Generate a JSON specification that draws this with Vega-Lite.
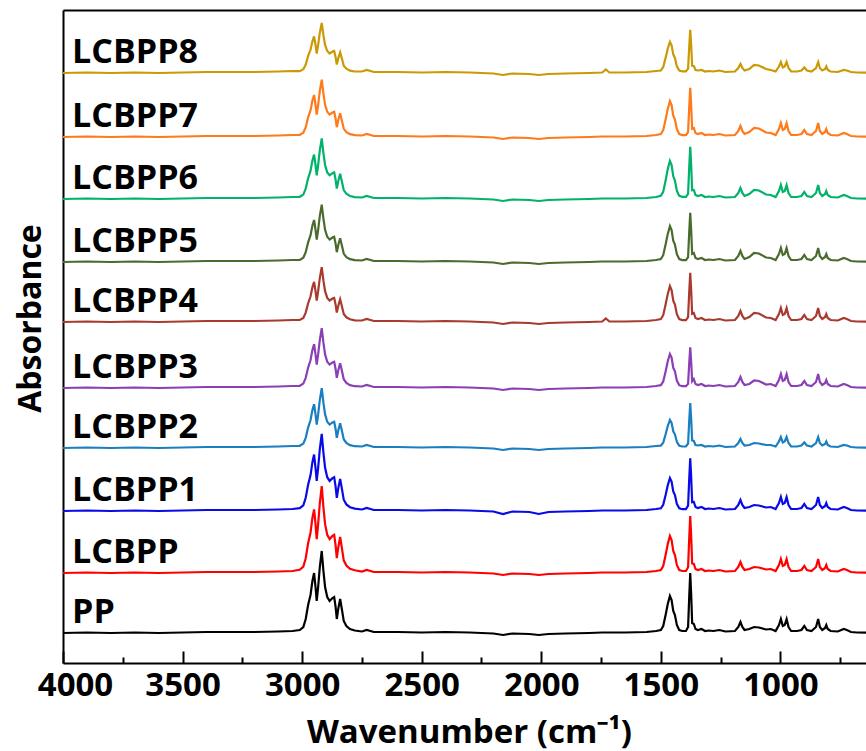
{
"$schema": "https://vega.github.io/schema/vega-lite/v6.json",
"width": 803,
"height": 653,
"autosize": {"type": "none"},
"padding": {"left": 63, "top": 10, "right": 0, "bottom": 88},
"background": "white",
"config": {"view": {"stroke": null}, "font": "Open Sans"},
"datasets": {
"spectra": [
{"w":4000,"PP":30,"LCBPP":90,"LCBPP1":152,"LCBPP2":215,"LCBPP3":275,"LCBPP4":341,"LCBPP5":401,"LCBPP6":464,"LCBPP7":526,"LCBPP8":590},
{"w":3900,"PP":30.5,"LCBPP":90.5,"LCBPP1":152.5,"LCBPP2":215.5,"LCBPP3":275.5,"LCBPP4":341.5,"LCBPP5":401.5,"LCBPP6":464.5,"LCBPP7":526.5,"LCBPP8":590.5},
{"w":3800,"PP":30,"LCBPP":90,"LCBPP1":152,"LCBPP2":215,"LCBPP3":275,"LCBPP4":341,"LCBPP5":401,"LCBPP6":464,"LCBPP7":526,"LCBPP8":590},
{"w":3700,"PP":30.5,"LCBPP":90.5,"LCBPP1":152.5,"LCBPP2":215.5,"LCBPP3":275.5,"LCBPP4":341.5,"LCBPP5":401.5,"LCBPP6":464.5,"LCBPP7":526.5,"LCBPP8":590.5},
{"w":3600,"PP":30,"LCBPP":90,"LCBPP1":152,"LCBPP2":215,"LCBPP3":275,"LCBPP4":341,"LCBPP5":401,"LCBPP6":464,"LCBPP7":526,"LCBPP8":590},
{"w":3500,"PP":30.5,"LCBPP":90.5,"LCBPP1":152.5,"LCBPP2":215.5,"LCBPP3":275.5,"LCBPP4":341.5,"LCBPP5":401.5,"LCBPP6":464.5,"LCBPP7":526.5,"LCBPP8":590.5},
{"w":3400,"PP":31,"LCBPP":91,"LCBPP1":153,"LCBPP2":216,"LCBPP3":276,"LCBPP4":342,"LCBPP5":402,"LCBPP6":465,"LCBPP7":527,"LCBPP8":591},
{"w":3300,"PP":31,"LCBPP":91,"LCBPP1":153,"LCBPP2":216,"LCBPP3":276,"LCBPP4":342,"LCBPP5":402,"LCBPP6":465,"LCBPP7":527,"LCBPP8":591},
{"w":3200,"PP":31,"LCBPP":91,"LCBPP1":153,"LCBPP2":216,"LCBPP3":276,"LCBPP4":342,"LCBPP5":402,"LCBPP6":465,"LCBPP7":527,"LCBPP8":591},
{"w":3100,"PP":31.5,"LCBPP":91.5,"LCBPP1":153.5,"LCBPP2":216.5,"LCBPP3":276.5,"LCBPP4":342.5,"LCBPP5":402.5,"LCBPP6":465.5,"LCBPP7":527.5,"LCBPP8":591.5},
{"w":3040,"PP":32,"LCBPP":92,"LCBPP1":154,"LCBPP2":217,"LCBPP3":277,"LCBPP4":343,"LCBPP5":403,"LCBPP6":466,"LCBPP7":528,"LCBPP8":592},
{"w":3010,"PP":33,"LCBPP":93.2,"LCBPP1":154.8,"LCBPP2":217.2,"LCBPP3":277.2,"LCBPP4":343,"LCBPP5":403.1,"LCBPP6":466.2,"LCBPP7":528.1,"LCBPP8":591.8},
{"w":2995,"PP":36,"LCBPP":96.4,"LCBPP1":157.6,"LCBPP2":219.4,"LCBPP3":279.4,"LCBPP4":345,"LCBPP5":405.2,"LCBPP6":468.4,"LCBPP7":530.2,"LCBPP8":593.7},
{"w":2985,"PP":44,"LCBPP":104.8,"LCBPP1":165.2,"LCBPP2":225.2,"LCBPP3":285.2,"LCBPP4":350.4,"LCBPP5":410.8,"LCBPP6":474.4,"LCBPP7":535.8,"LCBPP8":598.5},
{"w":2975,"PP":58,"LCBPP":119.7,"LCBPP1":178.3,"LCBPP2":235.4,"LCBPP3":295.4,"LCBPP4":359.8,"LCBPP5":420.6,"LCBPP6":484.7,"LCBPP7":545.6,"LCBPP8":607.1},
{"w":2965,"PP":68,"LCBPP":130.3,"LCBPP1":187.7,"LCBPP2":242.7,"LCBPP3":302.7,"LCBPP4":366.5,"LCBPP5":427.6,"LCBPP6":492.1,"LCBPP7":552.6,"LCBPP8":613.2},
{"w":2957,"PP":82,"LCBPP":145.1,"LCBPP1":200.9,"LCBPP2":253,"LCBPP3":313,"LCBPP4":375.8,"LCBPP5":437.4,"LCBPP6":502.5,"LCBPP7":562.4,"LCBPP8":621.7},
{"w":2950,"PP":90,"LCBPP":153.6,"LCBPP1":208.4,"LCBPP2":258.8,"LCBPP3":318.8,"LCBPP4":381.2,"LCBPP5":443,"LCBPP6":508.4,"LCBPP7":568,"LCBPP8":626.6},
{"w":2944,"PP":76,"LCBPP":138.8,"LCBPP1":195.2,"LCBPP2":248.6,"LCBPP3":308.6,"LCBPP4":371.8,"LCBPP5":433.2,"LCBPP6":498,"LCBPP7":558.2,"LCBPP8":618.1},
{"w":2939,"PP":62,"LCBPP":123.9,"LCBPP1":182.1,"LCBPP2":238.4,"LCBPP3":298.4,"LCBPP4":362.4,"LCBPP5":423.4,"LCBPP6":487.7,"LCBPP7":548.4,"LCBPP8":609.5},
{"w":2933,"PP":76,"LCBPP":138.8,"LCBPP1":195.2,"LCBPP2":248.6,"LCBPP3":308.6,"LCBPP4":371.8,"LCBPP5":433.2,"LCBPP6":498,"LCBPP7":558.2,"LCBPP8":618.1},
{"w":2926,"PP":96,"LCBPP":160,"LCBPP1":214,"LCBPP2":263.2,"LCBPP3":323.2,"LCBPP4":385.2,"LCBPP5":447.2,"LCBPP6":512.8,"LCBPP7":572.2,"LCBPP8":630.3},
{"w":2918,"PP":112,"LCBPP":176.9,"LCBPP1":229.1,"LCBPP2":274.9,"LCBPP3":334.9,"LCBPP4":395.9,"LCBPP5":458.4,"LCBPP6":524.7,"LCBPP7":583.4,"LCBPP8":640},
{"w":2911,"PP":92,"LCBPP":155.7,"LCBPP1":210.3,"LCBPP2":260.3,"LCBPP3":320.3,"LCBPP4":382.5,"LCBPP5":444.4,"LCBPP6":509.9,"LCBPP7":569.4,"LCBPP8":627.8},
{"w":2904,"PP":76,"LCBPP":138.8,"LCBPP1":195.2,"LCBPP2":248.6,"LCBPP3":308.6,"LCBPP4":371.8,"LCBPP5":433.2,"LCBPP6":498,"LCBPP7":558.2,"LCBPP8":618.1},
{"w":2895,"PP":66,"LCBPP":128.2,"LCBPP1":185.8,"LCBPP2":241.3,"LCBPP3":301.3,"LCBPP4":365.1,"LCBPP5":426.2,"LCBPP6":490.6,"LCBPP7":551.2,"LCBPP8":612},
{"w":2885,"PP":62,"LCBPP":123.9,"LCBPP1":182.1,"LCBPP2":238.4,"LCBPP3":298.4,"LCBPP4":362.4,"LCBPP5":423.4,"LCBPP6":487.7,"LCBPP7":548.4,"LCBPP8":609.5},
{"w":2873,"PP":65,"LCBPP":127.1,"LCBPP1":184.9,"LCBPP2":240.6,"LCBPP3":300.6,"LCBPP4":364.5,"LCBPP5":425.5,"LCBPP6":489.9,"LCBPP7":550.5,"LCBPP8":611.4},
{"w":2866,"PP":66,"LCBPP":128.2,"LCBPP1":185.8,"LCBPP2":241.3,"LCBPP3":301.3,"LCBPP4":365.1,"LCBPP5":426.2,"LCBPP6":490.6,"LCBPP7":551.2,"LCBPP8":612},
{"w":2860,"PP":56,"LCBPP":117.6,"LCBPP1":176.4,"LCBPP2":234,"LCBPP3":294,"LCBPP4":358.4,"LCBPP5":419.2,"LCBPP6":483.2,"LCBPP7":544.2,"LCBPP8":605.9},
{"w":2855,"PP":44,"LCBPP":104.8,"LCBPP1":165.2,"LCBPP2":225.2,"LCBPP3":285.2,"LCBPP4":350.4,"LCBPP5":410.8,"LCBPP6":474.4,"LCBPP7":535.8,"LCBPP8":598.5},
{"w":2849,"PP":54,"LCBPP":115.4,"LCBPP1":174.6,"LCBPP2":232.5,"LCBPP3":292.5,"LCBPP4":357.1,"LCBPP5":417.8,"LCBPP6":481.8,"LCBPP7":542.8,"LCBPP8":604.6},
{"w":2841,"PP":64,"LCBPP":126,"LCBPP1":184,"LCBPP2":239.8,"LCBPP3":299.8,"LCBPP4":363.8,"LCBPP5":424.8,"LCBPP6":489.2,"LCBPP7":549.8,"LCBPP8":610.7},
{"w":2834,"PP":54,"LCBPP":115.4,"LCBPP1":174.6,"LCBPP2":232.5,"LCBPP3":292.5,"LCBPP4":357.1,"LCBPP5":417.8,"LCBPP6":481.8,"LCBPP7":542.8,"LCBPP8":604.6},
{"w":2826,"PP":42,"LCBPP":102.7,"LCBPP1":163.3,"LCBPP2":223.8,"LCBPP3":283.8,"LCBPP4":349,"LCBPP5":409.4,"LCBPP6":472.9,"LCBPP7":534.4,"LCBPP8":597.3},
{"w":2815,"PP":37,"LCBPP":97.4,"LCBPP1":158.6,"LCBPP2":220.1,"LCBPP3":280.1,"LCBPP4":345.7,"LCBPP5":405.9,"LCBPP6":469.2,"LCBPP7":530.9,"LCBPP8":594.3},
{"w":2800,"PP":34,"LCBPP":94.2,"LCBPP1":155.8,"LCBPP2":217.9,"LCBPP3":277.9,"LCBPP4":343.7,"LCBPP5":403.8,"LCBPP6":467,"LCBPP7":528.8,"LCBPP8":592.4},
{"w":2780,"PP":32.5,"LCBPP":92.7,"LCBPP1":154.4,"LCBPP2":216.8,"LCBPP3":276.8,"LCBPP4":342.7,"LCBPP5":402.8,"LCBPP6":465.9,"LCBPP7":527.8,"LCBPP8":591.5},
{"w":2750,"PP":31.5,"LCBPP":91.5,"LCBPP1":153.5,"LCBPP2":216.5,"LCBPP3":276.5,"LCBPP4":342.5,"LCBPP5":402.5,"LCBPP6":465.5,"LCBPP7":527.5,"LCBPP8":591.5},
{"w":2730,"PP":33,"LCBPP":93,"LCBPP1":155,"LCBPP2":218,"LCBPP3":278,"LCBPP4":344,"LCBPP5":404,"LCBPP6":467,"LCBPP7":529,"LCBPP8":593},
{"w":2700,"PP":31,"LCBPP":91,"LCBPP1":153,"LCBPP2":216,"LCBPP3":276,"LCBPP4":342,"LCBPP5":402,"LCBPP6":465,"LCBPP7":527,"LCBPP8":591},
{"w":2600,"PP":31,"LCBPP":91,"LCBPP1":153,"LCBPP2":216,"LCBPP3":276,"LCBPP4":342,"LCBPP5":402,"LCBPP6":465,"LCBPP7":527,"LCBPP8":591},
{"w":2500,"PP":30.5,"LCBPP":90.5,"LCBPP1":152.5,"LCBPP2":215.5,"LCBPP3":275.5,"LCBPP4":341.5,"LCBPP5":401.5,"LCBPP6":464.5,"LCBPP7":526.5,"LCBPP8":590.5},
{"w":2400,"PP":31,"LCBPP":91,"LCBPP1":153,"LCBPP2":216,"LCBPP3":276,"LCBPP4":342,"LCBPP5":402,"LCBPP6":465,"LCBPP7":527,"LCBPP8":591},
{"w":2300,"PP":30.5,"LCBPP":90.5,"LCBPP1":152.5,"LCBPP2":215.5,"LCBPP3":275.5,"LCBPP4":341.5,"LCBPP5":401.5,"LCBPP6":464.5,"LCBPP7":526.5,"LCBPP8":590.5},
{"w":2200,"PP":29.5,"LCBPP":89.5,"LCBPP1":151.5,"LCBPP2":214.5,"LCBPP3":274.5,"LCBPP4":340.5,"LCBPP5":400.5,"LCBPP6":463.5,"LCBPP7":525.5,"LCBPP8":589.5},
{"w":2160,"PP":28,"LCBPP":88,"LCBPP1":149,"LCBPP2":213,"LCBPP3":273,"LCBPP4":339,"LCBPP5":399,"LCBPP6":462,"LCBPP7":524,"LCBPP8":588},
{"w":2120,"PP":29.5,"LCBPP":89.5,"LCBPP1":151.5,"LCBPP2":214.5,"LCBPP3":274.5,"LCBPP4":340.5,"LCBPP5":400.5,"LCBPP6":463.5,"LCBPP7":525.5,"LCBPP8":589.5},
{"w":2050,"PP":29,"LCBPP":89,"LCBPP1":151,"LCBPP2":214,"LCBPP3":274,"LCBPP4":340,"LCBPP5":400,"LCBPP6":463,"LCBPP7":525,"LCBPP8":589},
{"w":2010,"PP":28,"LCBPP":88,"LCBPP1":149,"LCBPP2":213,"LCBPP3":273,"LCBPP4":339,"LCBPP5":399,"LCBPP6":462,"LCBPP7":524,"LCBPP8":588},
{"w":1970,"PP":29,"LCBPP":89,"LCBPP1":151,"LCBPP2":214,"LCBPP3":274,"LCBPP4":340,"LCBPP5":400,"LCBPP6":463,"LCBPP7":525,"LCBPP8":589},
{"w":1900,"PP":29.5,"LCBPP":89.5,"LCBPP1":151.5,"LCBPP2":214.5,"LCBPP3":274.5,"LCBPP4":340.5,"LCBPP5":400.5,"LCBPP6":463.5,"LCBPP7":525.5,"LCBPP8":589.5},
{"w":1800,"PP":30,"LCBPP":90,"LCBPP1":152,"LCBPP2":215,"LCBPP3":275,"LCBPP4":341,"LCBPP5":401,"LCBPP6":464,"LCBPP7":526,"LCBPP8":590},
{"w":1745,"PP":30.5,"LCBPP":90.5,"LCBPP1":152.5,"LCBPP2":215.5,"LCBPP3":275.5,"LCBPP4":341.5,"LCBPP5":401.5,"LCBPP6":464.5,"LCBPP7":526.5,"LCBPP8":590.5},
{"w":1730,"PP":30.5,"LCBPP":90.5,"LCBPP1":152.5,"LCBPP2":215.5,"LCBPP3":275.5,"LCBPP4":344.5,"LCBPP5":401.5,"LCBPP6":464.5,"LCBPP7":526.5,"LCBPP8":593.5},
{"w":1715,"PP":30.5,"LCBPP":90.5,"LCBPP1":152.5,"LCBPP2":215.5,"LCBPP3":275.5,"LCBPP4":341.5,"LCBPP5":401.5,"LCBPP6":464.5,"LCBPP7":526.5,"LCBPP8":590.5},
{"w":1650,"PP":30.5,"LCBPP":90.5,"LCBPP1":152.5,"LCBPP2":215.5,"LCBPP3":275.5,"LCBPP4":341.5,"LCBPP5":401.5,"LCBPP6":464.5,"LCBPP7":526.5,"LCBPP8":590.5},
{"w":1560,"PP":31,"LCBPP":91,"LCBPP1":153,"LCBPP2":216,"LCBPP3":276,"LCBPP4":342,"LCBPP5":402,"LCBPP6":465,"LCBPP7":527,"LCBPP8":591},
{"w":1520,"PP":32,"LCBPP":92,"LCBPP1":154,"LCBPP2":217,"LCBPP3":277,"LCBPP4":343,"LCBPP5":403,"LCBPP6":466,"LCBPP7":528,"LCBPP8":592},
{"w":1500,"PP":33,"LCBPP":93,"LCBPP1":154.7,"LCBPP2":217.3,"LCBPP3":277.8,"LCBPP4":343.9,"LCBPP5":403.9,"LCBPP6":467.1,"LCBPP7":528.9,"LCBPP8":592.5},
{"w":1490,"PP":37,"LCBPP":97,"LCBPP1":158.2,"LCBPP2":220.3,"LCBPP3":281.4,"LCBPP4":347.8,"LCBPP5":407.8,"LCBPP6":471.2,"LCBPP7":532.8,"LCBPP8":595.9},
{"w":1480,"PP":48,"LCBPP":108,"LCBPP1":168,"LCBPP2":228.7,"LCBPP3":291.6,"LCBPP4":358.5,"LCBPP5":418.5,"LCBPP6":482.5,"LCBPP7":543.5,"LCBPP8":605.1},
{"w":1471,"PP":59,"LCBPP":119,"LCBPP1":177.8,"LCBPP2":237,"LCBPP3":301.7,"LCBPP4":369.1,"LCBPP5":429.1,"LCBPP6":493.9,"LCBPP7":554.1,"LCBPP8":614.4},
{"w":1462,"PP":67,"LCBPP":127,"LCBPP1":184.9,"LCBPP2":243.1,"LCBPP3":309,"LCBPP4":376.9,"LCBPP5":436.9,"LCBPP6":502.1,"LCBPP7":561.9,"LCBPP8":621.1},
{"w":1455,"PP":63,"LCBPP":123,"LCBPP1":181.4,"LCBPP2":240.1,"LCBPP3":305.4,"LCBPP4":373,"LCBPP5":433,"LCBPP6":498,"LCBPP7":558,"LCBPP8":617.7},
{"w":1448,"PP":52,"LCBPP":112,"LCBPP1":171.6,"LCBPP2":231.7,"LCBPP3":295.2,"LCBPP4":362.3,"LCBPP5":422.3,"LCBPP6":486.7,"LCBPP7":547.3,"LCBPP8":608.5},
{"w":1441,"PP":48,"LCBPP":108,"LCBPP1":168,"LCBPP2":228.7,"LCBPP3":291.6,"LCBPP4":358.5,"LCBPP5":418.5,"LCBPP6":482.5,"LCBPP7":543.5,"LCBPP8":605.1},
{"w":1433,"PP":38,"LCBPP":98,"LCBPP1":159.1,"LCBPP2":221.1,"LCBPP3":282.4,"LCBPP4":348.8,"LCBPP5":408.8,"LCBPP6":472.2,"LCBPP7":533.8,"LCBPP8":596.7},
{"w":1423,"PP":33,"LCBPP":93,"LCBPP1":154.7,"LCBPP2":217.3,"LCBPP3":277.8,"LCBPP4":343.9,"LCBPP5":403.9,"LCBPP6":467.1,"LCBPP7":528.9,"LCBPP8":592.5},
{"w":1410,"PP":32,"LCBPP":92,"LCBPP1":153.8,"LCBPP2":216.5,"LCBPP3":276.8,"LCBPP4":342.9,"LCBPP5":402.9,"LCBPP6":466.1,"LCBPP7":527.9,"LCBPP8":591.7},
{"w":1395,"PP":32,"LCBPP":92,"LCBPP1":153.8,"LCBPP2":216.5,"LCBPP3":276.8,"LCBPP4":342.9,"LCBPP5":402.9,"LCBPP6":466.1,"LCBPP7":527.9,"LCBPP8":591.7},
{"w":1386,"PP":36,"LCBPP":95.7,"LCBPP1":157.3,"LCBPP2":219.5,"LCBPP3":279.1,"LCBPP4":345.9,"LCBPP5":405.9,"LCBPP6":469.2,"LCBPP7":530.9,"LCBPP8":594.3},
{"w":1381,"PP":68,"LCBPP":126.1,"LCBPP1":185.4,"LCBPP2":243.5,"LCBPP3":300.8,"LCBPP4":372.2,"LCBPP5":432.2,"LCBPP6":497.1,"LCBPP7":557.2,"LCBPP8":617.4},
{"w":1377,"PP":90,"LCBPP":147,"LCBPP1":204.8,"LCBPP2":260,"LCBPP3":315.8,"LCBPP4":390.2,"LCBPP5":450.2,"LCBPP6":516.2,"LCBPP7":575.2,"LCBPP8":633.2},
{"w":1373,"PP":68,"LCBPP":126.1,"LCBPP1":185.4,"LCBPP2":243.5,"LCBPP3":300.8,"LCBPP4":372.2,"LCBPP5":432.2,"LCBPP6":497.1,"LCBPP7":557.2,"LCBPP8":617.4},
{"w":1369,"PP":40,"LCBPP":99.5,"LCBPP1":160.8,"LCBPP2":222.5,"LCBPP3":281.8,"LCBPP4":349.2,"LCBPP5":409.2,"LCBPP6":472.7,"LCBPP7":534.2,"LCBPP8":597.2},
{"w":1362,"PP":39,"LCBPP":99,"LCBPP1":161,"LCBPP2":222,"LCBPP3":284,"LCBPP4":350,"LCBPP5":410,"LCBPP6":473,"LCBPP7":535,"LCBPP8":597},
{"w":1355,"PP":34,"LCBPP":94,"LCBPP1":156,"LCBPP2":218,"LCBPP3":279,"LCBPP4":345,"LCBPP5":405,"LCBPP6":468,"LCBPP7":530,"LCBPP8":593},
{"w":1345,"PP":33,"LCBPP":93,"LCBPP1":155,"LCBPP2":217.5,"LCBPP3":278,"LCBPP4":344,"LCBPP5":404,"LCBPP6":467,"LCBPP7":529,"LCBPP8":592.5},
{"w":1330,"PP":34,"LCBPP":94,"LCBPP1":156,"LCBPP2":218,"LCBPP3":279,"LCBPP4":345,"LCBPP5":405,"LCBPP6":468,"LCBPP7":530,"LCBPP8":593},
{"w":1315,"PP":32,"LCBPP":92,"LCBPP1":154,"LCBPP2":216.5,"LCBPP3":277,"LCBPP4":343,"LCBPP5":403,"LCBPP6":466,"LCBPP7":528,"LCBPP8":591.5},
{"w":1300,"PP":32.5,"LCBPP":92.5,"LCBPP1":154.5,"LCBPP2":217,"LCBPP3":277.5,"LCBPP4":343.5,"LCBPP5":403.5,"LCBPP6":466.5,"LCBPP7":528.5,"LCBPP8":592},
{"w":1280,"PP":32,"LCBPP":92,"LCBPP1":154,"LCBPP2":216.5,"LCBPP3":277,"LCBPP4":343,"LCBPP5":403,"LCBPP6":466,"LCBPP7":528,"LCBPP8":591.5},
{"w":1255,"PP":33,"LCBPP":93,"LCBPP1":155,"LCBPP2":217.5,"LCBPP3":278,"LCBPP4":344,"LCBPP5":404,"LCBPP6":467,"LCBPP7":529,"LCBPP8":592.5},
{"w":1230,"PP":31.5,"LCBPP":91.5,"LCBPP1":153.5,"LCBPP2":216,"LCBPP3":276.5,"LCBPP4":342.5,"LCBPP5":402.5,"LCBPP6":465.5,"LCBPP7":527.5,"LCBPP8":591},
{"w":1190,"PP":32,"LCBPP":92,"LCBPP1":154,"LCBPP2":216.5,"LCBPP3":277,"LCBPP4":343,"LCBPP5":403,"LCBPP6":466,"LCBPP7":528,"LCBPP8":591.5},
{"w":1176,"PP":36,"LCBPP":96,"LCBPP1":158,"LCBPP2":220,"LCBPP3":281,"LCBPP4":347,"LCBPP5":407,"LCBPP6":470,"LCBPP7":532,"LCBPP8":595},
{"w":1167,"PP":41,"LCBPP":101,"LCBPP1":163,"LCBPP2":224,"LCBPP3":286,"LCBPP4":352,"LCBPP5":412,"LCBPP6":475,"LCBPP7":537,"LCBPP8":599},
{"w":1159,"PP":36,"LCBPP":96,"LCBPP1":158,"LCBPP2":220,"LCBPP3":281,"LCBPP4":347,"LCBPP5":407,"LCBPP6":470,"LCBPP7":532,"LCBPP8":595},
{"w":1150,"PP":33,"LCBPP":93,"LCBPP1":155,"LCBPP2":217.5,"LCBPP3":278,"LCBPP4":344,"LCBPP5":404,"LCBPP6":467,"LCBPP7":529,"LCBPP8":592.5},
{"w":1130,"PP":34,"LCBPP":94,"LCBPP1":156,"LCBPP2":218,"LCBPP3":279,"LCBPP4":346,"LCBPP5":406,"LCBPP6":469,"LCBPP7":531,"LCBPP8":594},
{"w":1110,"PP":36,"LCBPP":96,"LCBPP1":158,"LCBPP2":220,"LCBPP3":282.5,"LCBPP4":350,"LCBPP5":410,"LCBPP6":473,"LCBPP7":535,"LCBPP8":598},
{"w":1090,"PP":35.5,"LCBPP":95.5,"LCBPP1":157.5,"LCBPP2":219.5,"LCBPP3":282,"LCBPP4":349.5,"LCBPP5":409.5,"LCBPP6":472.5,"LCBPP7":534.5,"LCBPP8":597.5},
{"w":1060,"PP":33.5,"LCBPP":93.5,"LCBPP1":155.5,"LCBPP2":218,"LCBPP3":278.5,"LCBPP4":345.5,"LCBPP5":405.5,"LCBPP6":468.5,"LCBPP7":530.5,"LCBPP8":594},
{"w":1040,"PP":34,"LCBPP":94,"LCBPP1":156,"LCBPP2":218,"LCBPP3":279,"LCBPP4":345,"LCBPP5":405,"LCBPP6":468,"LCBPP7":530,"LCBPP8":593},
{"w":1020,"PP":32,"LCBPP":92,"LCBPP1":154,"LCBPP2":216.5,"LCBPP3":277,"LCBPP4":343,"LCBPP5":403,"LCBPP6":466,"LCBPP7":528,"LCBPP8":591.5},
{"w":1006,"PP":38,"LCBPP":98,"LCBPP1":160,"LCBPP2":221.5,"LCBPP3":283,"LCBPP4":349,"LCBPP5":409,"LCBPP6":472,"LCBPP7":534,"LCBPP8":596.5},
{"w":998,"PP":44,"LCBPP":104,"LCBPP1":166,"LCBPP2":226,"LCBPP3":289,"LCBPP4":355,"LCBPP5":415,"LCBPP6":478,"LCBPP7":540,"LCBPP8":601},
{"w":990,"PP":37,"LCBPP":97,"LCBPP1":159,"LCBPP2":220.5,"LCBPP3":282,"LCBPP4":348,"LCBPP5":408,"LCBPP6":471,"LCBPP7":533,"LCBPP8":595.5},
{"w":982,"PP":38,"LCBPP":98,"LCBPP1":160,"LCBPP2":221.5,"LCBPP3":283,"LCBPP4":349,"LCBPP5":409,"LCBPP6":472,"LCBPP7":534,"LCBPP8":596.5},
{"w":974,"PP":44,"LCBPP":104,"LCBPP1":166,"LCBPP2":226,"LCBPP3":289,"LCBPP4":355,"LCBPP5":415,"LCBPP6":478,"LCBPP7":540,"LCBPP8":601},
{"w":966,"PP":36,"LCBPP":96,"LCBPP1":158,"LCBPP2":220,"LCBPP3":281,"LCBPP4":347,"LCBPP5":407,"LCBPP6":470,"LCBPP7":532,"LCBPP8":595},
{"w":955,"PP":32,"LCBPP":92,"LCBPP1":154,"LCBPP2":216.5,"LCBPP3":277,"LCBPP4":343,"LCBPP5":403,"LCBPP6":466,"LCBPP7":528,"LCBPP8":591.5},
{"w":930,"PP":32,"LCBPP":92,"LCBPP1":154,"LCBPP2":216.5,"LCBPP3":277,"LCBPP4":343,"LCBPP5":403,"LCBPP6":466,"LCBPP7":528,"LCBPP8":591.5},
{"w":912,"PP":33,"LCBPP":93,"LCBPP1":155,"LCBPP2":217.5,"LCBPP3":278,"LCBPP4":344,"LCBPP5":404,"LCBPP6":467,"LCBPP7":529,"LCBPP8":592.5},
{"w":900,"PP":37,"LCBPP":97,"LCBPP1":159,"LCBPP2":220.5,"LCBPP3":282,"LCBPP4":348,"LCBPP5":408,"LCBPP6":471,"LCBPP7":533,"LCBPP8":595.5},
{"w":889,"PP":33,"LCBPP":93,"LCBPP1":155,"LCBPP2":217.5,"LCBPP3":278,"LCBPP4":344,"LCBPP5":404,"LCBPP6":467,"LCBPP7":529,"LCBPP8":592.5},
{"w":870,"PP":32,"LCBPP":92,"LCBPP1":154,"LCBPP2":216.5,"LCBPP3":277,"LCBPP4":343,"LCBPP5":403,"LCBPP6":466,"LCBPP7":528,"LCBPP8":591.5},
{"w":851,"PP":36,"LCBPP":96,"LCBPP1":158,"LCBPP2":220,"LCBPP3":281,"LCBPP4":347,"LCBPP5":407,"LCBPP6":470,"LCBPP7":532,"LCBPP8":595},
{"w":842,"PP":44,"LCBPP":104,"LCBPP1":166,"LCBPP2":226,"LCBPP3":289,"LCBPP4":355,"LCBPP5":415,"LCBPP6":478,"LCBPP7":540,"LCBPP8":601},
{"w":835,"PP":36,"LCBPP":96,"LCBPP1":158,"LCBPP2":220,"LCBPP3":281,"LCBPP4":347,"LCBPP5":407,"LCBPP6":470,"LCBPP7":532,"LCBPP8":595},
{"w":825,"PP":33,"LCBPP":93,"LCBPP1":155,"LCBPP2":217.5,"LCBPP3":278,"LCBPP4":344,"LCBPP5":404,"LCBPP6":467,"LCBPP7":529,"LCBPP8":592.5},
{"w":813,"PP":35,"LCBPP":95,"LCBPP1":157,"LCBPP2":219,"LCBPP3":280,"LCBPP4":346,"LCBPP5":406,"LCBPP6":469,"LCBPP7":531,"LCBPP8":594},
{"w":808,"PP":38,"LCBPP":98,"LCBPP1":160,"LCBPP2":221.5,"LCBPP3":283,"LCBPP4":349,"LCBPP5":409,"LCBPP6":472,"LCBPP7":534,"LCBPP8":596.5},
{"w":802,"PP":34,"LCBPP":94,"LCBPP1":156,"LCBPP2":218,"LCBPP3":279,"LCBPP4":345,"LCBPP5":405,"LCBPP6":468,"LCBPP7":530,"LCBPP8":593},
{"w":790,"PP":32,"LCBPP":92,"LCBPP1":154,"LCBPP2":216.5,"LCBPP3":277,"LCBPP4":343,"LCBPP5":403,"LCBPP6":466,"LCBPP7":528,"LCBPP8":591.5},
{"w":760,"PP":31.5,"LCBPP":91.5,"LCBPP1":153.5,"LCBPP2":216,"LCBPP3":276.5,"LCBPP4":342.5,"LCBPP5":402.5,"LCBPP6":465.5,"LCBPP7":527.5,"LCBPP8":591},
{"w":735,"PP":34,"LCBPP":94,"LCBPP1":156,"LCBPP2":218,"LCBPP3":279,"LCBPP4":345,"LCBPP5":405,"LCBPP6":468,"LCBPP7":530,"LCBPP8":593},
{"w":722,"PP":33,"LCBPP":93,"LCBPP1":155,"LCBPP2":217.5,"LCBPP3":278,"LCBPP4":344,"LCBPP5":404,"LCBPP6":467,"LCBPP7":529,"LCBPP8":592.5},
{"w":705,"PP":31,"LCBPP":91,"LCBPP1":153,"LCBPP2":216,"LCBPP3":276,"LCBPP4":342,"LCBPP5":402,"LCBPP6":465,"LCBPP7":527,"LCBPP8":591},
{"w":680,"PP":30.5,"LCBPP":90.5,"LCBPP1":152.5,"LCBPP2":215.5,"LCBPP3":275.5,"LCBPP4":341.5,"LCBPP5":401.5,"LCBPP6":464.5,"LCBPP7":526.5,"LCBPP8":590.5},
{"w":642,"PP":30.3,"LCBPP":90.3,"LCBPP1":152.3,"LCBPP2":215.3,"LCBPP3":275.3,"LCBPP4":341.3,"LCBPP5":401.3,"LCBPP6":464.3,"LCBPP7":526.3,"LCBPP8":590.3}
],
"labels": [
{"series":"PP","w":3962,"y":40},
{"series":"LCBPP","w":3962,"y":100},
{"series":"LCBPP1","w":3962,"y":162},
{"series":"LCBPP2","w":3962,"y":225},
{"series":"LCBPP3","w":3962,"y":285},
{"series":"LCBPP4","w":3962,"y":351},
{"series":"LCBPP5","w":3962,"y":411},
{"series":"LCBPP6","w":3962,"y":474},
{"series":"LCBPP7","w":3962,"y":536},
{"series":"LCBPP8","w":3962,"y":600}
]
},
"layer": [
{
"data": {"name": "spectra"},
"transform": [{"fold": ["PP","LCBPP","LCBPP1","LCBPP2","LCBPP3","LCBPP4","LCBPP5","LCBPP6","LCBPP7","LCBPP8"], "as": ["series","absorbance"]}],
"mark": {"type": "line", "strokeWidth": 2.2, "clip": true},
"encoding": {
"x": {"field": "w", "type": "quantitative",
"scale": {"domain": [642, 4000], "reverse": true, "nice": false, "zero": false},
"axis": {"orient": "bottom", "title": "Wavenumber (cm⁻¹)", "grid": false,
"values": [4000,3500,3000,2500,2000,1500,1000],
"format": "d",
"tickSize": -12,
"tickColor": "black", "tickWidth": 2,
"domainColor": "black", "domainWidth": 2,
"labelFont": "Open Sans", "labelFontSize": 33, "labelFontWeight": "bold", "labelColor": "black",
"labelBaseline": "alphabetic", "labelPadding": 44, "labelFlush": false, "labelOverlap": false,
"labelOffset": {"condition": {"test": "datum.value === 4000", "value": 12}, "value": 0},
"titleFont": "Open Sans", "titleFontSize": 33, "titleFontWeight": "bold", "titleColor": "black",
"titleX": 406, "titleY": 79, "titleAlign": "center", "titleBaseline": "alphabetic"}},
"y": {"field": "absorbance", "type": "quantitative",
"scale": {"domain": [0, 653], "nice": false, "zero": false},
"axis": {"title": "Absorbance", "labels": false, "ticks": false, "grid": false,
"domainColor": "black", "domainWidth": 2,
"titleFont": "Open Sans", "titleFontSize": 32, "titleFontWeight": "bold", "titleColor": "black",
"titleAngle": -90, "titleX": -23, "titleY": 308, "titleAlign": "center", "titleBaseline": "alphabetic"}},
"color": {"field": "series", "type": "nominal",
"scale": {"domain": ["PP","LCBPP","LCBPP1","LCBPP2","LCBPP3","LCBPP4","LCBPP5","LCBPP6","LCBPP7","LCBPP8"],
"range": ["#000000","#ff0000","#0a0ae6","#1a7fc1","#8a3fb5","#a83a30","#4b6b2e","#00b26b","#ff7a1a","#c99a06"]},
"legend": null}
}
},
{
"data": {"name": "labels"},
"mark": {"type": "text", "align": "left", "baseline": "alphabetic", "font": "Open Sans", "fontWeight": "bold", "fontSize": 34, "color": "black"},
"encoding": {
"x": {"field": "w", "type": "quantitative",
"scale": {"domain": [642, 4000], "reverse": true, "nice": false, "zero": false},
"axis": {"orient": "bottom", "values": [3750,3250,2750,2250,1750,1250,750], "labels": false, "domain": false, "grid": false, "title": null,
"tickSize": -6, "tickColor": "black", "tickWidth": 2}},
"y": {"field": "y", "type": "quantitative", "scale": {"domain": [0, 653], "nice": false, "zero": false}, "axis": null},
"text": {"field": "series"}
}
},
{
"data": {"name": "labels"},
"mark": {"type": "text", "opacity": 0, "text": ""},
"encoding": {
"x": {"field": "w", "type": "quantitative",
"scale": {"domain": [642, 4000], "reverse": true, "nice": false, "zero": false},
"axis": {"orient": "top", "labels": false, "ticks": false, "grid": false, "title": null, "domainColor": "black", "domainWidth": 2}},
"y": {"field": "y", "type": "quantitative", "scale": {"domain": [0, 653], "nice": false, "zero": false}, "axis": null}
}
}
],
"resolve": {"axis": {"x": "independent", "y": "independent"}}
}
